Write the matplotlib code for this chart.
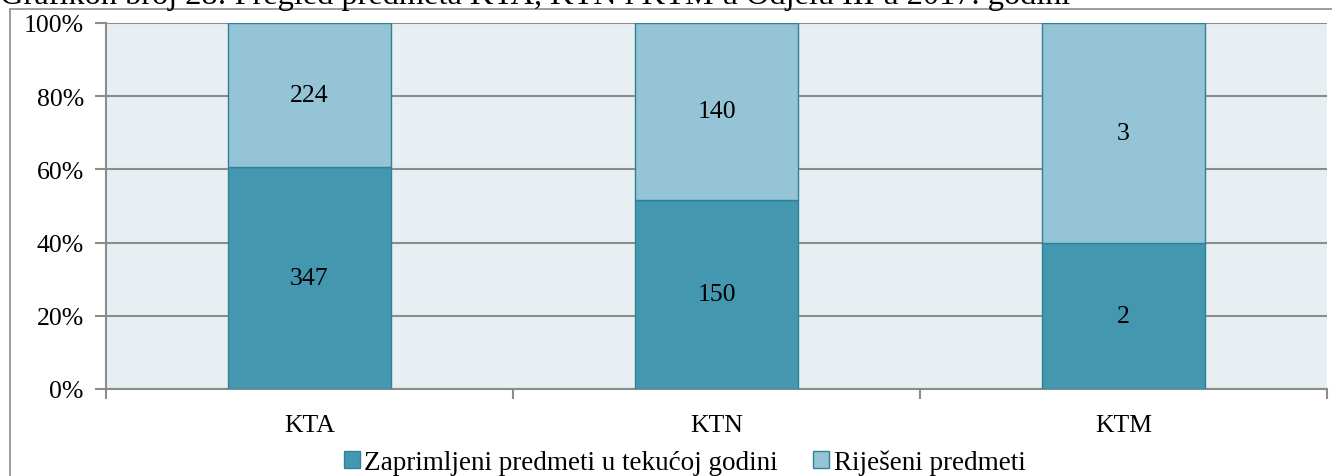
import matplotlib.pyplot as plt
import numpy as np
from matplotlib.patches import Rectangle

categories = ['KTA', 'KTN', 'KTM']
zaprimljeni = [347, 150, 2]
rijeseni = [224, 140, 3]
series_names = ['Zaprimljeni predmeti u tekućoj godini', 'Riješeni predmeti']
title = 'Grafikon broj 28: Pregled predmeta KTA, KTN i KTM u Odjelu III u 2017. godini'

plt.rcParams['font.family'] = ['Liberation Serif', 'DejaVu Serif']

dark = '#4398B0'
light = '#94C4D5'
edge = '#2F8198'
fs = 18.5

z = np.array(zaprimljeni, dtype=float)
r = np.array(rijeseni, dtype=float)
tot = z + r
zp = z / tot * 100
rp = r / tot * 100

fig = plt.figure(figsize=(13.32, 4.77), dpi=100)
ax = fig.add_axes([106 / 1332, 1 - 390 / 477, 1221 / 1332, 366 / 477])
ax.set_facecolor('#E8EFF3')

# outer chart frame
fig.patches.append(Rectangle((10 / 1332, -0.1), 1.2, 1 - 9.5 / 477 + 0.1,
                             transform=fig.transFigure, fill=False,
                             edgecolor='#8C8C8C', lw=1.2, zorder=0))

x = np.arange(len(categories))
w = 0.4
ax.bar(x, zp, w, color=dark, edgecolor=edge, lw=1, label=series_names[0], zorder=3)
ax.bar(x, rp, w, bottom=zp, color=light, edgecolor=edge, lw=1, label=series_names[1], zorder=3)

for i in range(len(categories)):
    ax.text(x[i], zp[i] / 2, str(zaprimljeni[i]), ha='center', va='center', fontsize=fs, zorder=4)
    ax.text(x[i], zp[i] + rp[i] / 2, str(rijeseni[i]), ha='center', va='center', fontsize=fs, zorder=4)

ax.set_xlim(-0.5, len(categories) - 0.5)
ax.set_ylim(0, 100)
ax.set_yticks(np.arange(0, 101, 20))
ax.set_yticklabels([f'{v}%' for v in range(0, 101, 20)], fontsize=fs)
ax.yaxis.grid(True, color='#8C8C8C', lw=1.5, zorder=1)
ax.set_xticks(x)
ax.set_xticklabels(categories, fontsize=fs)
ax.tick_params(axis='x', length=0, pad=18)
ax.set_xticks(np.arange(-0.5, len(categories), 1), minor=True)
ax.tick_params(axis='x', which='minor', length=7, color='#8C8C8C', width=1.5)
ax.tick_params(axis='y', length=8, color='#8C8C8C', width=1.5, pad=8)
for s in ['top', 'right']:
    ax.spines[s].set_visible(False)
for s in ['left', 'bottom']:
    ax.spines[s].set_color('#8C8C8C')
    ax.spines[s].set_linewidth(1.5)

fig.legend(loc='center', bbox_to_anchor=(0.514, 1 - 463 / 477), ncol=2, frameon=False,
           fontsize=19.5, handlelength=0.6, handleheight=0.6, handletextpad=0.15,
           columnspacing=1.3)

fig.text(0.0, 1 - 4 / 477, title, fontsize=23.3, ha='left', va='baseline')

fig.savefig('out.png', dpi=100)
